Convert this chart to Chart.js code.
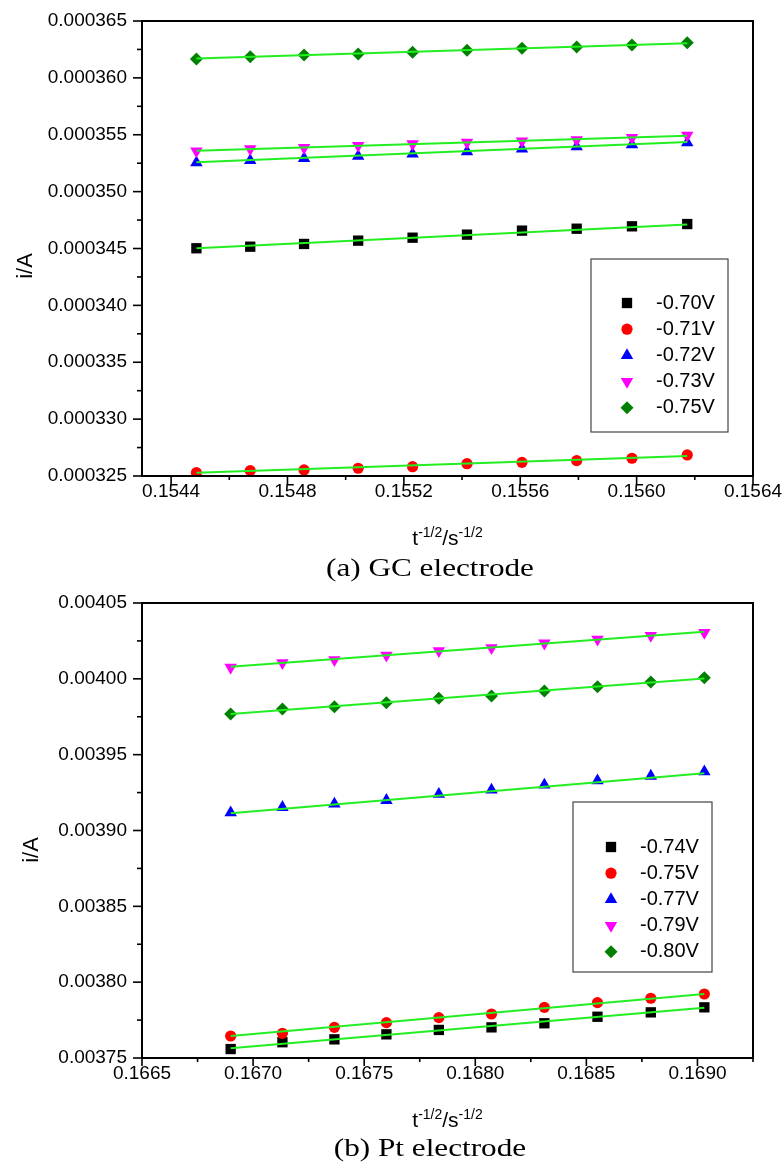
<!DOCTYPE html>
<html>
<head>
<meta charset="utf-8">
<script src="https://cdn.jsdelivr.net/npm/chart.js@4.4.1/dist/chart.umd.min.js"></script>
<style>
  body { margin: 0; background: #fff; }
  #page { position: relative; width: 782px; height: 1164px; overflow: hidden; }
  canvas { position: absolute; left: 0; }
  .caption {
    position: absolute; left: 230px; width: 400px; text-align: center;
    font-family: "Liberation Serif", "Times New Roman", serif; font-size: 26px;
    line-height: 26px; color: #000; transform: scaleX(1.2); white-space: nowrap;
  }
</style>
</head>
<body>
<div id="page">
  <canvas id="chartA" width="782" height="555" style="top:0"></canvas>
  <div class="caption" style="top:555px">(a) GC electrode</div>
  <canvas id="chartB" width="782" height="555" style="top:580px"></canvas>
  <div class="caption" style="top:1135px">(b) Pt electrode</div>
</div>
<script>
// ---- (a) GC electrode ----
const xA = [0.154487, 0.154672, 0.154857, 0.155043, 0.155230, 0.155417, 0.155606, 0.155794, 0.155984, 0.156174];
const labelsA = ["-0.70V", "-0.71V", "-0.72V", "-0.73V", "-0.75V"];
const a070 = [0.00034502, 0.00034516, 0.00034540, 0.00034569, 0.00034595, 0.00034622, 0.00034657, 0.00034674, 0.00034695, 0.00034715];
const a071 = [0.00032529, 0.00032547, 0.00032553, 0.00032568, 0.00032582, 0.00032608, 0.00032620, 0.00032635, 0.00032656, 0.00032685];
const a072 = [0.00035254, 0.00035275, 0.00035293, 0.00035311, 0.00035331, 0.00035351, 0.00035375, 0.00035395, 0.00035413, 0.00035430];
const a073 = [0.00035357, 0.00035375, 0.00035386, 0.00035404, 0.00035419, 0.00035434, 0.00035445, 0.00035456, 0.00035474, 0.00035495];
const a075 = [0.00036166, 0.00036186, 0.00036201, 0.00036210, 0.00036225, 0.00036242, 0.00036260, 0.00036271, 0.00036289, 0.00036309];
// linear fit lines, value at first and last x
const fitStartA = [0.00034502, 0.00032529, 0.00035258, 0.00035360, 0.00036170];
const fitEndA   = [0.00034712, 0.00032676, 0.00035436, 0.00035492, 0.00036304];
const xTicksA = [0.1544, 0.1548, 0.1552, 0.1556, 0.1560, 0.1564];
const yTicksA = [0.000325, 0.000330, 0.000335, 0.000340, 0.000345, 0.000350, 0.000355, 0.000360, 0.000365];

// ---- (b) Pt electrode ----
const xB = [0.166899, 0.167132, 0.167366, 0.167600, 0.167836, 0.168073, 0.168311, 0.168550, 0.168790, 0.169031];
const labelsB = ["-0.74V", "-0.75V", "-0.77V", "-0.79V", "-0.80V"];
const b074 = [0.0037559, 0.0037604, 0.0037623, 0.0037656, 0.0037685, 0.0037702, 0.0037729, 0.0037772, 0.0037801, 0.0037834];
const b075 = [0.0037645, 0.0037663, 0.0037702, 0.0037733, 0.0037766, 0.0037790, 0.0037834, 0.0037865, 0.0037894, 0.0037922];
const b077 = [0.0039117, 0.0039153, 0.0039175, 0.0039199, 0.0039239, 0.0039267, 0.0039300, 0.0039328, 0.0039359, 0.0039388];
const b079 = [0.0040075, 0.0040105, 0.0040125, 0.0040155, 0.0040185, 0.0040205, 0.0040235, 0.0040260, 0.0040285, 0.0040305];
const b080 = [0.0039768, 0.0039801, 0.0039816, 0.0039842, 0.0039872, 0.0039887, 0.0039920, 0.0039948, 0.0039979, 0.0040007];
const fitStartB = [0.0037564, 0.0037645, 0.0039113, 0.0040080, 0.0039768];
const fitEndB   = [0.0037832, 0.0037922, 0.0039377, 0.0040310, 0.0040003];
const xTicksB = [0.1665, 0.1670, 0.1675, 0.1680, 0.1685, 0.1690];
const yTicksB = [0.00375, 0.00380, 0.00385, 0.00390, 0.00395, 0.00400, 0.00405];

const colors = ["#000000", "#ff0000", "#0000ff", "#ff00ff", "#008000"];
const shapes = [
  { style: "rect", r: 7.3, rot: 0 },
  { style: "circle", r: 5.6, rot: 0 },
  { style: "triangle", r: 7.2, rot: 0 },
  { style: "triangle", r: 7.2, rot: 180 },
  { style: "rectRot", r: 6.5, rot: 0 }
];
const fitColor = "#22ee22";
const SANS = '"Liberation Sans", Arial, sans-serif';

function drawMarker(ctx, style, x, y, r, rot) {
  ctx.beginPath();
  if (style === "rect") {
    const s = r * Math.SQRT1_2;
    ctx.rect(x - s, y - s, 2 * s, 2 * s);
  } else if (style === "circle") {
    ctx.arc(x, y, r, 0, Math.PI * 2);
  } else if (style === "triangle") {
    const d = rot ? -1 : 1;
    ctx.moveTo(x, y - d * r);
    ctx.lineTo(x + 0.866 * r, y + d * r / 2);
    ctx.lineTo(x - 0.866 * r, y + d * r / 2);
    ctx.closePath();
  } else {
    ctx.moveTo(x - r, y);
    ctx.lineTo(x, y - r);
    ctx.lineTo(x + r, y);
    ctx.lineTo(x, y + r);
    ctx.closePath();
  }
  ctx.fill();
}

function minorTicks(major, min, max) {
  const step = major[1] - major[0];
  const out = [];
  for (let k = -1; k < major.length; k++) {
    const v = major[0] + (k + 0.5) * step;
    if (v >= min - 1e-12 && v <= max + 1e-12) out.push(v);
  }
  return out;
}

const framePlugin = {
  id: "frame",
  afterDraw(chart, args, o) {
    const ctx = chart.ctx;
    const a = chart.chartArea;
    const xs = chart.scales.x, ys = chart.scales.y;
    ctx.save();
    ctx.strokeStyle = "#000";
    ctx.lineWidth = 1.6;
    const seg = (x1, y1, x2, y2) => { ctx.beginPath(); ctx.moveTo(x1, y1); ctx.lineTo(x2, y2); ctx.stroke(); };
    o.xTicks.forEach(v => { const p = xs.getPixelForValue(v); seg(p, a.bottom, p, a.bottom + 8); });
    minorTicks(o.xTicks, xs.min, xs.max).forEach(v => { const p = xs.getPixelForValue(v); seg(p, a.bottom, p, a.bottom + 4); });
    o.yTicks.forEach(v => { const p = ys.getPixelForValue(v); seg(a.left - 9, p, a.left, p); });
    minorTicks(o.yTicks, ys.min, ys.max).forEach(v => { const p = ys.getPixelForValue(v); seg(a.left - 5, p, a.left, p); });
    ctx.lineWidth = 2;
    ctx.strokeRect(a.left, a.top, a.right - a.left, a.bottom - a.top);

    // legend box
    const L = o.legend;
    ctx.lineWidth = 1.2;
    ctx.strokeStyle = "#444";
    ctx.strokeRect(L.x, L.y, L.w, L.h);
    ctx.font = "20px " + SANS;
    ctx.textBaseline = "middle";
    ctx.textAlign = "left";
    chart.data.datasets.filter(d => !d.isFit).forEach((d, i) => {
      const ry = L.row0 + i * L.gap;
      ctx.fillStyle = d.backgroundColor;
      const sh = shapes[i];
      drawMarker(ctx, sh.style, L.mx, ry, sh.r, sh.rot);
      ctx.fillStyle = "#000";
      ctx.fillText(d.label, L.tx, ry);
    });

    // y title
    ctx.fillStyle = "#000";
    ctx.save();
    ctx.translate(o.yTitle.x, o.yTitle.y);
    ctx.rotate(-Math.PI / 2);
    ctx.font = "22px " + SANS;
    ctx.textAlign = "center";
    ctx.textBaseline = "middle";
    ctx.fillText("i/A", 0, 0);
    ctx.restore();

    // x title with superscripts
    const parts = [["t", 21, 0], ["-1/2", 14, -8], ["/s", 21, 0], ["-1/2", 14, -8]];
    ctx.textBaseline = "alphabetic";
    ctx.textAlign = "left";
    let total = 0;
    parts.forEach(p => { ctx.font = p[1] + "px " + SANS; total += ctx.measureText(p[0]).width; });
    let cx = (a.left + a.right) / 2 - total / 2;
    parts.forEach(p => {
      ctx.font = p[1] + "px " + SANS;
      ctx.fillText(p[0], cx, o.xTitleBase + p[2]);
      cx += ctx.measureText(p[0]).width;
    });
    ctx.restore();
  }
};

function buildChart(id, cfg) {
  const H = 555;
  const datasets = [];
  cfg.series.forEach((ys, i) => {
    datasets.push({
      label: cfg.labels[i],
      data: ys.map((y, k) => ({ x: cfg.x[k], y: y })),
      backgroundColor: colors[i],
      borderColor: colors[i],
      pointStyle: shapes[i].style,
      pointRadius: shapes[i].r,
      pointRotation: shapes[i].rot,
      pointBorderWidth: 0,
      pointHoverRadius: shapes[i].r,
      order: 10 - i
    });
  });
  cfg.series.forEach((ys, i) => {
    datasets.push({
      label: "fit " + cfg.labels[i],
      isFit: true,
      data: [{ x: cfg.x[0], y: cfg.fitStart[i] }, { x: cfg.x[cfg.x.length - 1], y: cfg.fitEnd[i] }],
      showLine: true,
      pointRadius: 0,
      borderColor: fitColor,
      borderWidth: 2,
      order: 0
    });
  });
  const tickFont = { family: SANS, size: 19 };
  return new Chart(document.getElementById(id), {
    type: "scatter",
    data: { datasets: datasets },
    options: {
      responsive: false,
      animation: false,
      devicePixelRatio: 1,
      layout: { padding: { top: cfg.top, right: 29, left: 0, bottom: 0 } },
      plugins: {
        legend: { display: false },
        tooltip: { enabled: false },
        frame: {
          xTicks: cfg.xTicks, yTicks: cfg.yTicks,
          legend: cfg.legend, yTitle: cfg.yTitle, xTitleBase: cfg.xTitleBase
        }
      },
      scales: {
        x: {
          type: "linear", min: cfg.xMin, max: cfg.xMax,
          afterBuildTicks: s => { s.ticks = cfg.xTicks.map(v => ({ value: v })); },
          afterFit: s => { s.height = H - cfg.bottom; s.paddingLeft = 0; s.paddingRight = 0; },
          grid: { display: false, drawTicks: false },
          border: { display: false },
          ticks: {
            color: "#000", font: tickFont, padding: 4, maxRotation: 0, minRotation: 0, autoSkip: false,
            callback: v => v.toFixed(4)
          }
        },
        y: {
          type: "linear", min: cfg.yMin, max: cfg.yMax,
          afterBuildTicks: s => { s.ticks = cfg.yTicks.map(v => ({ value: v })); },
          afterFit: s => { s.width = 142; s.paddingTop = 0; s.paddingBottom = 0; },
          grid: { display: false, drawTicks: false },
          border: { display: false },
          ticks: {
            color: "#000", font: tickFont, padding: 15, autoSkip: false,
            callback: v => v.toFixed(cfg.yDigits)
          }
        }
      }
    },
    plugins: [framePlugin]
  });
}

buildChart("chartA", {
  x: xA, labels: labelsA, series: [a070, a071, a072, a073, a075],
  fitStart: fitStartA, fitEnd: fitEndA,
  xTicks: xTicksA, yTicks: yTicksA, yDigits: 6,
  xMin: 0.1543, xMax: 0.1564, yMin: 0.000325, yMax: 0.000365,
  top: 21, bottom: 476,
  legend: { x: 591, y: 259, w: 137, h: 173, row0: 303, gap: 26.2, mx: 627, tx: 656 },
  yTitle: { x: 26, y: 266 }, xTitleBase: 545
});

buildChart("chartB", {
  x: xB, labels: labelsB, series: [b074, b075, b077, b079, b080],
  fitStart: fitStartB, fitEnd: fitEndB,
  xTicks: xTicksB, yTicks: yTicksB, yDigits: 5,
  xMin: 0.1665, xMax: 0.16925, yMin: 0.00375, yMax: 0.00405,
  top: 23, bottom: 478,
  legend: { x: 573, y: 222, w: 139, h: 170, row0: 267, gap: 26.2, mx: 611, tx: 640 },
  yTitle: { x: 32, y: 270 }, xTitleBase: 547
});
</script>
</body>
</html>
